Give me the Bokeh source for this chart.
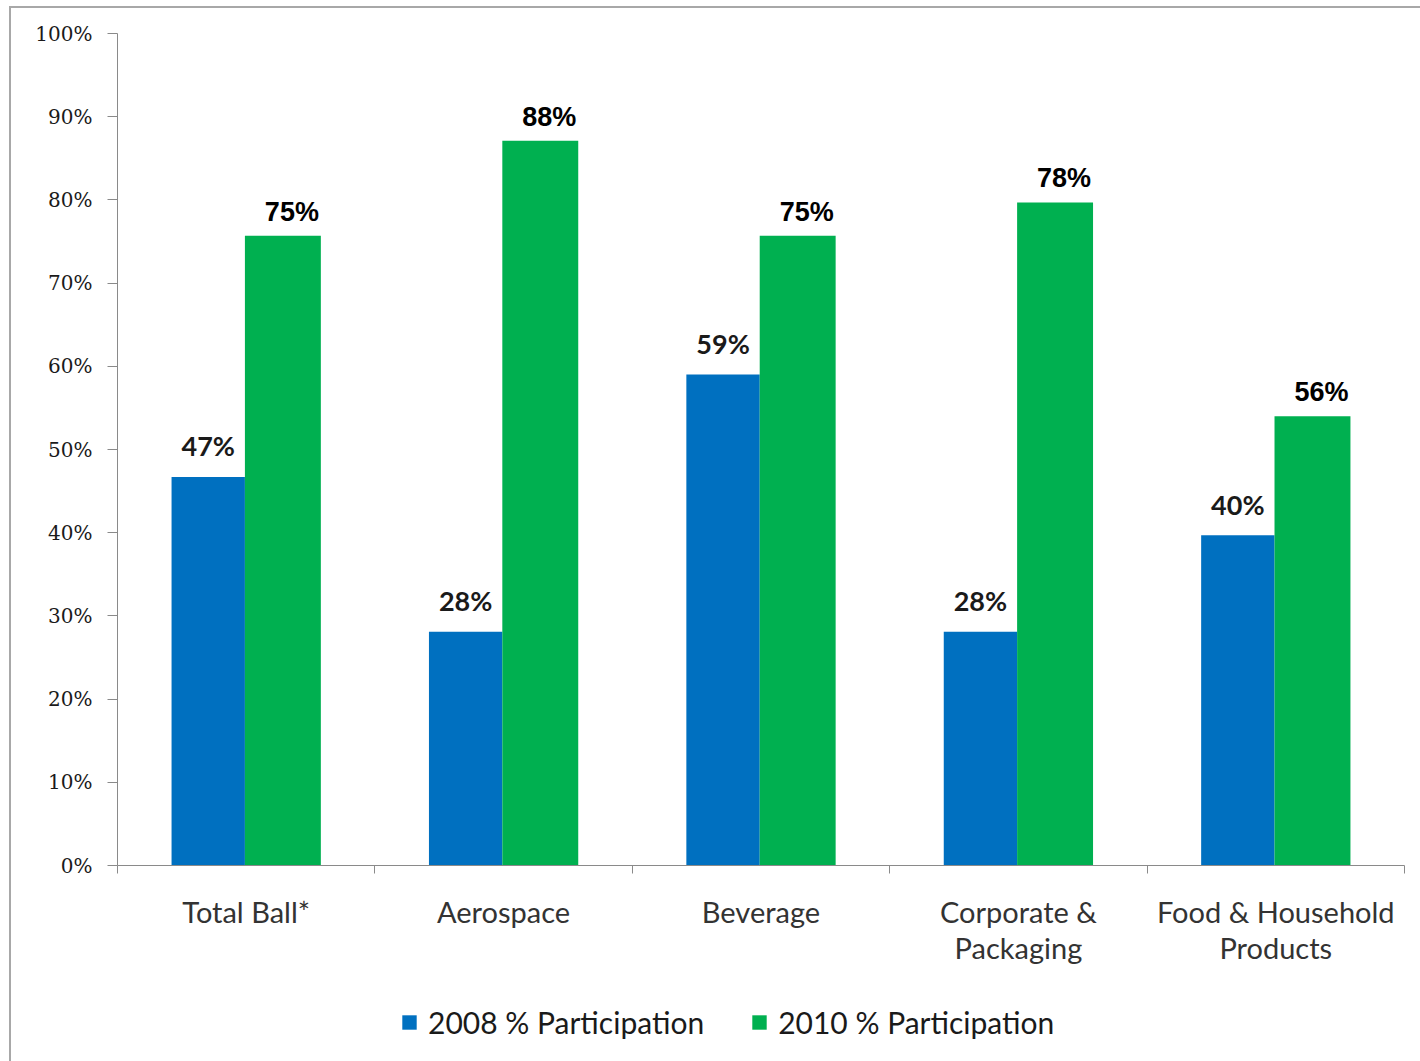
import numpy as np
from bokeh.plotting import figure
from bokeh.layouts import column
from bokeh.models import ColumnDataSource, FixedTicker, NumeralTickFormatter, Range1d, Legend, LegendItem
from bokeh.core.properties import value
from bokeh.embed import file_html
from bokeh.resources import INLINE

categories = ["Total Ball*", "Aerospace", "Beverage", "Corporate &\nPackaging", "Food & Household\nProducts"]
series_names = ["2008 % Participation", "2010 % Participation"]
values_2008 = [0.467, 0.281, 0.590, 0.281, 0.397]
values_2010 = [0.757, 0.871, 0.757, 0.797, 0.540]
labels_2008 = ["47%", "28%", "59%", "28%", "40%"]
labels_2010 = ["75%", "88%", "75%", "78%", "56%"]
y_ticks = [0.0, 0.1, 0.2, 0.3, 0.4, 0.5, 0.6, 0.7, 0.8, 0.9, 1.0]

BLUE = "#0070C0"
GREEN = "#00B050"
AXIS = "#8a8a8a"

centers = np.arange(len(categories)) + 0.5
src08 = ColumnDataSource(dict(x=centers - 0.1475, top=values_2008, label=labels_2008))
src10 = ColumnDataSource(dict(x=centers + 0.1425, top=values_2010, label=labels_2010))

p = figure(width=1409, height=982, output_backend="svg", toolbar_location=None,
           x_range=Range1d(0, len(categories)), y_range=Range1d(0, 1.0),
           min_border_left=106, min_border_right=16, min_border_top=25, min_border_bottom=125)
p.outline_line_color = None
p.xgrid.visible = False
p.ygrid.visible = False
p.background_fill_color = "white"
p.border_fill_color = "white"

r08 = p.vbar(x="x", top="top", width=0.285, source=src08, fill_color=BLUE, line_color=None)
r10 = p.vbar(x="x", top="top", width=0.295, source=src10, fill_color=GREEN, line_color=None)

p.text(x="x", y="top", text="label", source=src08, text_align="center", text_baseline="alphabetic",
       y_offset=-31, text_font=value("Lato"), text_font_style="bold", text_font_size="27px",
       text_color="#1a1a1a")
p.text(x="x", y="top", text="label", source=src10, text_align="center", text_baseline="alphabetic",
       x_offset=9, y_offset=-24, text_font=value("Liberation Sans"), text_font_style="bold",
       text_font_size="27px", text_color="#000000")

# y axis
ya = p.yaxis[0]
ya.ticker = FixedTicker(ticks=y_ticks, minor_ticks=[])
ya.formatter = NumeralTickFormatter(format="0%")
ya.axis_line_color = AXIS
ya.major_tick_line_color = AXIS
ya.major_tick_out = 10
ya.major_tick_in = 0
ya.minor_tick_line_color = None
ya.major_label_standoff = 15
ya.major_label_text_font = "DejaVu Serif"
ya.major_label_text_font_size = "20px"
ya.major_label_text_color = "#1a1a1a"

# x axis
xa = p.xaxis[0]
xa.ticker = FixedTicker(ticks=list(centers), minor_ticks=list(range(len(categories) + 1)))
xa.major_label_overrides = {float(c): lab for c, lab in zip(centers, categories)}
xa.axis_line_color = AXIS
xa.major_tick_line_color = None
xa.major_tick_out = 0
xa.major_tick_in = 0
xa.minor_tick_line_color = AXIS
xa.minor_tick_out = 8
xa.minor_tick_in = 0
xa.major_label_standoff = 20
xa.major_label_text_font = "Lato"
xa.major_label_text_font_size = "29px"
xa.major_label_text_color = "#333333"
xa.major_label_text_line_height = 1.05

# legend strip (separate small figure so the legend is not clipped)
pl = figure(width=1409, height=71, output_backend="svg", toolbar_location=None,
            x_range=Range1d(0, 1), y_range=Range1d(0, 1),
            min_border_left=0, min_border_right=0, min_border_top=0, min_border_bottom=0)
pl.axis.visible = False
pl.grid.visible = False
pl.outline_line_color = None
lr08 = pl.vbar(x="x", top="top", width=0.285, source=src08, fill_color=BLUE, line_color=None, visible=False)
lr10 = pl.vbar(x="x", top="top", width=0.295, source=src10, fill_color=GREEN, line_color=None, visible=False)

legend = Legend(items=[LegendItem(label=series_names[0], renderers=[lr08]),
                       LegendItem(label=series_names[1], renderers=[lr10])],
                orientation="horizontal", location=(283, 21))
legend.click_policy = "none"
legend.glyph_width = 18
legend.glyph_height = 18
legend.label_standoff = 10
legend.spacing = 46
legend.padding = 0
legend.margin = 0
legend.border_line_color = None
legend.background_fill_alpha = 0
legend.label_text_font = "Lato"
legend.label_text_font_size = "30px"
legend.label_text_color = "#1a1a1a"
pl.add_layout(legend, "center")

layout = column(p, pl, spacing=0)
layout.styles = {"margin-left": "9px", "margin-top": "6px",
                 "border-left": "2px solid #a8a8a8", "border-top": "2px solid #a8a8a8"}

open("out.html", "w").write(file_html(layout, INLINE))
